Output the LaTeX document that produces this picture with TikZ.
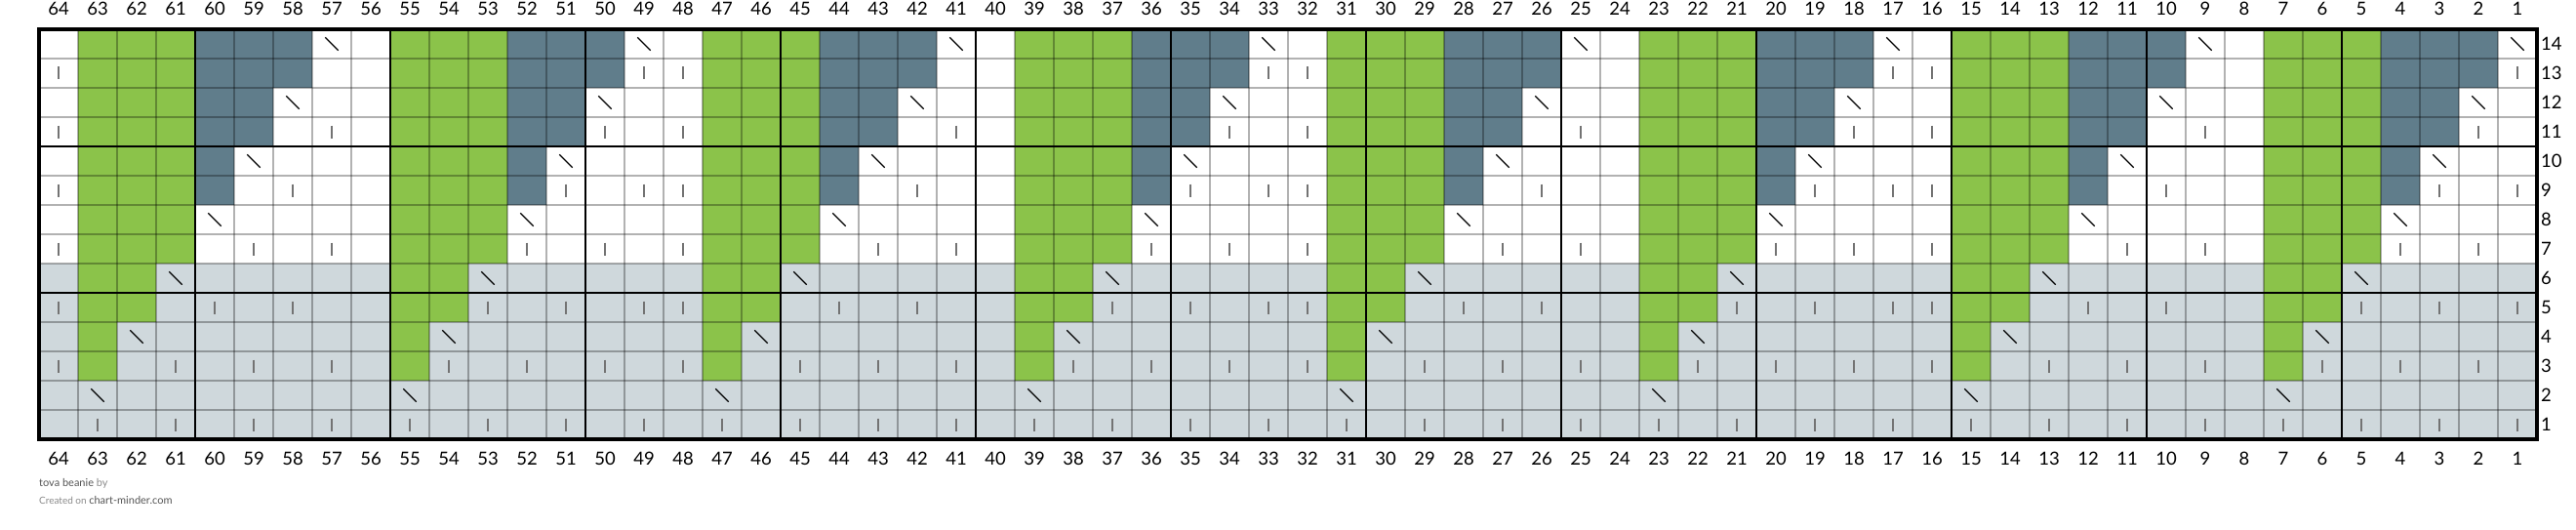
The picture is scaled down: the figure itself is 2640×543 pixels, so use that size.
\documentclass[tikz,border=0pt]{standalone}
\usepackage{fontspec}
\setmainfont{Lato}
\definecolor{yarngreen}{HTML}{8BC34A}
\definecolor{yarnslate}{HTML}{607D8B}
\definecolor{yarnmist}{HTML}{CFD8DC}
\definecolor{footdark}{HTML}{555555}
\definecolor{footlight}{HTML}{8A8A8A}
\begin{document}
\begin{tikzpicture}[x=1pt,y=-1pt,
    cellline/.style={line width=1.3pt,black,opacity=0.3},
    fiveline/.style={line width=2.6pt,black},
    chartborder/.style={line width=3.4pt,black},
    decmark/.style={line width=1.2pt,black},
    purlmark/.style={line width=2pt,black!55},
    numlabel/.style={anchor=base,inner sep=0pt,font=\fontsize{18.5}{20}\selectfont}]
  \fill[white] (0,0) rectangle (2640,543);
  \useasboundingbox (0,0) rectangle (2640,543);
  \fill[yarnmist] (40,270) rectangle (2600,450);
  \foreach \c in {1,...,64}{
    \pgfmathtruncatemacro{\k}{mod(\c-1,8)+1}
    \pgfmathsetmacro{\xl}{2600-40*\c}
    \ifnum\k>1 \ifnum\k<8
      \ifnum\k<5 \def\yarn{yarnslate}\else\def\yarn{yarngreen}\fi
      \fill[fill=\yarn] (\xl,30) rectangle (\xl+40,60*\k-30);
    \fi\fi
    \ifnum\k<8
      \draw[decmark] (\xl+13.3,60*\k-21.7) -- (\xl+26.7,60*\k-8.3);
    \fi
  }
  \foreach \j/\rows in {1/{13,9,5,1},2/{11,7,3},3/{9,5,1},4/{7,3},5/{5,1},6/{3},7/{1},
      9/{11,7,3,1},10/{9,5},11/{7,3,1},12/{5},13/{3,1},15/{1},16/{13,11,9,7,5,3}}{
    \foreach \m in {0,16,32,48}{
      \foreach \r in \rows{
        \draw[purlmark] (2620-40*\j-40*\m,458.5-30*\r) -- ++(0,13);
      }
    }
  }
  \foreach \i in {0,...,64}
    \draw[cellline] (40+40*\i,30) -- (40+40*\i,450);
  \foreach \i in {0,...,14}
    \draw[cellline] (40,30+30*\i) -- (2600,30+30*\i);
  \foreach \i in {1,...,12}
    \draw[fiveline] (2600-200*\i,30) -- (2600-200*\i,450);
  \draw[fiveline] (40,150) -- (2600,150) (40,300) -- (2600,300);
  \draw[chartborder] (40,30) rectangle (2600,450);
  \foreach \c in {1,...,64}{
    \node[numlabel] (top\c) at (2620-40*\c,16) {\c};
    \node[numlabel] (bot\c) at (2620-40*\c,476) {\c};
  }
  \foreach \r in {1,...,14}
    \node[numlabel,anchor=base west] (row\r) at (2604,471.7-30*\r) {\r};
  \node[anchor=base west,inner sep=0pt,font=\fontsize{11}{12}\selectfont]
    (title) at (40,498) {\textcolor{footdark}{tova beanie} \textcolor{footlight}{by}};
  \node[anchor=base west,inner sep=0pt,font=\fontsize{10}{12}\selectfont]
    (credit) at (40,516.5) {\textcolor{footlight}{Created on} \textcolor{footdark}{\fontsize{11}{12}\selectfont chart-minder.com}};
\end{tikzpicture}
\end{document}
